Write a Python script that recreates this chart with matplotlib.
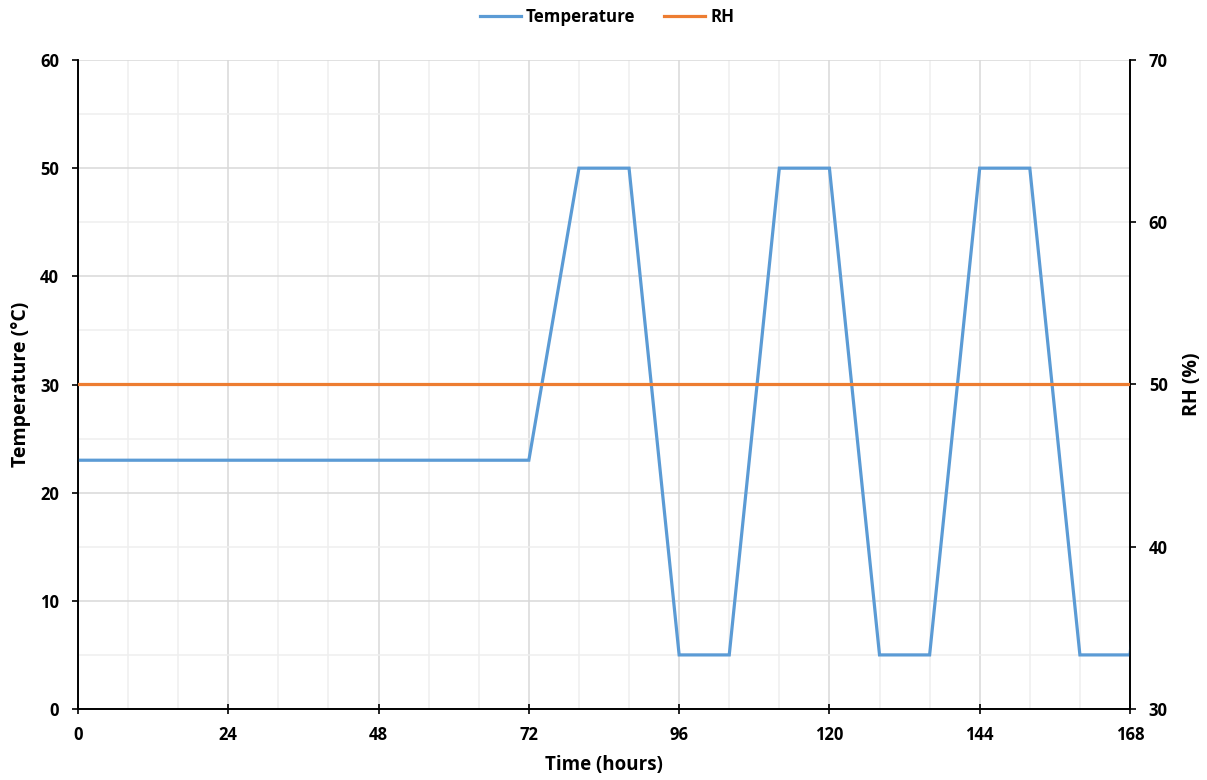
import matplotlib
matplotlib.use("Agg")
import matplotlib.pyplot as plt
from matplotlib.lines import Line2D

plt.rcParams['font.family'] = ['Open Sans', 'DejaVu Sans']
plt.rcParams['font.weight'] = 'bold'

time_h = [0, 72, 80, 88, 96, 104, 112, 120, 128, 136, 144, 152, 160, 168, 176]
temperature = [23, 23, 50, 50, 5, 5, 50, 50, 5, 5, 50, 50, 5, 5, 50]
rh_time = [0, 168]
rh = [50, 50]

x_ticks = [0, 24, 48, 72, 96, 120, 144, 168]
y_ticks = [0, 10, 20, 30, 40, 50, 60]
rh_ticks = [30, 40, 50, 60, 70]

temp_color = '#5B9BD5'
rh_color = '#ED7D31'

fig = plt.figure(figsize=(12.07, 7.8), dpi=100)
ax = fig.add_axes([78/1207, 1-709/780, (1130-78)/1207, (709-60)/780])
ax2 = ax.twinx()

ax.plot(time_h, temperature, color=temp_color, lw=2.3, zorder=3, solid_joinstyle='miter')
ax2.plot(rh_time, rh, color=rh_color, lw=2.3, zorder=3)

ax.set_xlim(0, 168)
ax.set_ylim(0, 60)
ax2.set_ylim(30, 70)

ax.set_xticks(x_ticks)
ax.set_xticks(range(0, 169, 8), minor=True)
ax.set_yticks(y_ticks)
ax.set_yticks(range(5, 60, 10), minor=True)
ax2.set_yticks(rh_ticks)

ax.grid(which='major', color='#d9d9d9', lw=1.1)
ax.grid(which='minor', color='#efefef', lw=1.1)
ax.set_axisbelow(True)

for a in (ax, ax2):
    a.spines['top'].set_visible(False)
    for s in a.spines.values():
        s.set_color('black')
        s.set_linewidth(1.2)

ax.tick_params(axis='x', which='major', direction='inout', length=7, width=1.2, labelsize=12, pad=9)
ax.tick_params(axis='x', which='minor', length=0)
ax.tick_params(axis='y', which='major', direction='out', length=4.5, width=1.2, labelsize=12, pad=9)
ax.tick_params(axis='y', which='minor', length=0)
ax2.tick_params(axis='y', direction='out', length=4.5, width=1.2, labelsize=12, pad=9)

for lab in ax.get_xticklabels() + ax.get_yticklabels() + ax2.get_yticklabels():
    lab.set_fontweight('bold')

ax.set_xlabel('Time (hours)', fontsize=13.5, fontweight='bold', labelpad=8)
ax.set_ylabel('Temperature (°C)', fontsize=14, fontweight='bold', labelpad=7)
ax2.set_ylabel('RH (%)', fontsize=14, fontweight='bold', labelpad=10)

handles = [Line2D([], [], color=temp_color, lw=2.3), Line2D([], [], color=rh_color, lw=2.3)]
fig.legend(handles, ['Temperature', 'RH'], loc='upper center', bbox_to_anchor=(0.503, 1.009),
           ncol=2, frameon=False, prop={'weight': 'bold', 'size': 12.2}, handlelength=2.4,
           handletextpad=0.3, columnspacing=1.7)

fig.savefig('out.png', dpi=100)
